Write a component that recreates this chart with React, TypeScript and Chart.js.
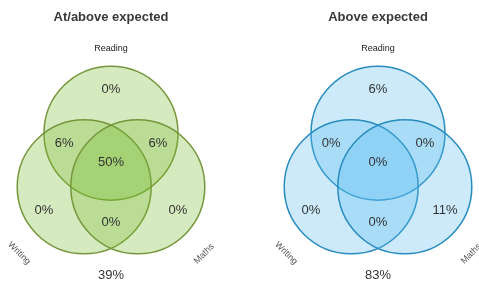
import React, { useEffect, useRef } from "react";
import { Chart, registerables } from "chart.js";

Chart.register(...registerables);

// ---- data ----
const setNames = ["Reading", "Writing", "Maths"];
const chartTitles = ["At/above expected", "Above expected"];
// region order: Reading only, Reading∩Writing, Reading∩Maths, all three,
// Writing only, Maths only, Writing∩Maths, none
const regionKeys = ["R", "RW", "RM", "RWM", "W", "M", "WM", "none"];
const atAboveValues = [0, 6, 6, 50, 0, 0, 0, 39];
const aboveValues = [6, 0, 0, 0, 0, 11, 0, 83];

// ---- geometry (data units, circle radius = 1) ----
const R = 1;
const circleCenters = [
  { x: 0, y: 0.4 },
  { x: -0.4, y: -0.4 },
  { x: 0.4, y: -0.4 },
];
const regionPos: Record<string, { x: number; y: number }> = {
  R: { x: 0, y: 1.06 },
  RW: { x: -0.7, y: 0.25 },
  RM: { x: 0.7, y: 0.25 },
  RWM: { x: 0, y: -0.04 },
  W: { x: -1.0, y: -0.75 },
  M: { x: 1.0, y: -0.75 },
  WM: { x: 0, y: -0.93 },
  none: { x: 0, y: -1.73 },
};
const setLabelPos = [
  { x: 0, y: 1.66, rot: 0 },
  { x: -1.37, y: -1.39, rot: Math.PI / 4 },
  { x: 1.39, y: -1.4, rot: -Math.PI / 4 },
];
const titlePos = { x: 0, y: 2.13 };

const PX = 67; // pixels per unit

const textPlugin = {
  id: "vennText",
  afterDatasetsDraw(chart: any) {
    const opts = chart.options.plugins.vennText;
    const xs = chart.scales.x;
    const ys = chart.scales.y;
    const ctx = chart.ctx;
    ctx.save();
    ctx.textAlign = "center";
    ctx.textBaseline = "middle";
    // title
    ctx.fillStyle = "#3a3a3a";
    ctx.font = "bold 13px 'Liberation Sans', Arial, sans-serif";
    ctx.fillText(opts.title, xs.getPixelForValue(titlePos.x), ys.getPixelForValue(titlePos.y));
    // set labels
    ctx.font = "9px 'Liberation Sans', Arial, sans-serif";
    ctx.fillStyle = "#222";
    setNames.forEach((n, i) => {
      const p = setLabelPos[i];
      ctx.save();
      ctx.translate(xs.getPixelForValue(p.x), ys.getPixelForValue(p.y));
      ctx.rotate(p.rot);
      ctx.fillStyle = i === 0 ? "#222" : "#555";
      ctx.fillText(n, 0, 0);
      ctx.restore();
    });
    // region values
    ctx.font = "13px 'Liberation Sans', Arial, sans-serif";
    ctx.fillStyle = "#333";
    regionKeys.forEach((k, i) => {
      const p = regionPos[k];
      ctx.fillText(opts.values[i] + "%", xs.getPixelForValue(p.x), ys.getPixelForValue(p.y));
    });
    ctx.restore();
  },
};

function Venn({ width, centerPx, title, values, fill, stroke }: any) {
  const ref = useRef<HTMLCanvasElement>(null);
  useEffect(() => {
    const radiusPx = (c: any) => {
      const s = c.chart.scales.x;
      return Math.abs(s.getPixelForValue(R) - s.getPixelForValue(0));
    };
    const chart = new Chart(ref.current!, {
      type: "scatter",
      data: {
        datasets: [
          {
            data: circleCenters.map((c) => ({ x: c.x, y: c.y })),
            backgroundColor: fill,
            borderColor: stroke,
            borderWidth: 1.5,
            pointRadius: radiusPx as any,
            pointHoverRadius: radiusPx as any,
            clip: false as any,
          },
        ],
      },
      options: {
        responsive: false,
        animation: false,
        events: [],
        layout: { padding: 0 },
        scales: {
          x: { type: "linear", display: false, min: -centerPx / PX, max: (width - centerPx) / PX },
          y: { type: "linear", display: false, min: -(282 - 160) / PX, max: 160 / PX },
        },
        plugins: {
          legend: { display: false },
          tooltip: { enabled: false },
          vennText: { title, values },
        } as any,
      },
      plugins: [textPlugin],
    });
    return () => chart.destroy();
  }, []);
  return <canvas ref={ref} width={width} height={282} style={{ display: "block", width, height: 282 }} />;
}

export default function App() {
  useEffect(() => {
    document.body.style.margin = "0";
    document.body.style.background = "#fff";
  }, []);
  return (
    <div style={{ display: "flex", width: 479, height: 282, overflow: "hidden", background: "#fff" }}>
      <Venn width={240} centerPx={111} title={chartTitles[0]} values={atAboveValues}
        fill="rgba(118,185,45,0.3)" stroke="rgb(118,150,60)" />
      <Venn width={239} centerPx={138} title={chartTitles[1]} values={aboveValues}
        fill="rgba(85,185,238,0.3)" stroke="rgb(40,140,190)" />
    </div>
  );
}
